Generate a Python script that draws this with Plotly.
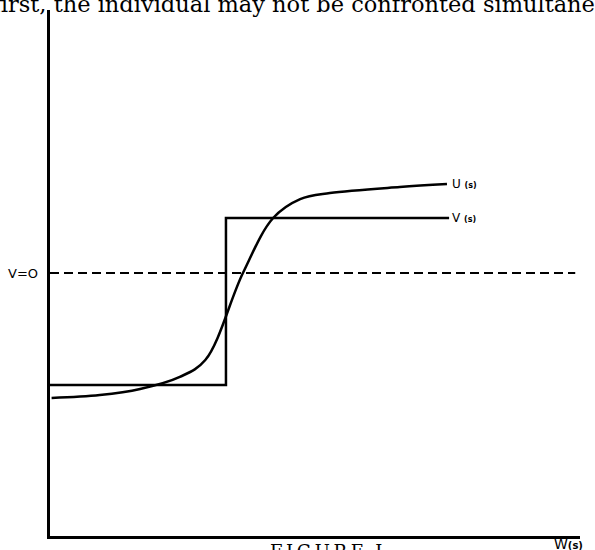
import plotly.graph_objects as go

# U(s) curve
u_x = [0.03, 0.94, 1.70, 2.45, 2.93, 3.64, 4.21, 4.72, 5.28, 6.60, 7.49]
u_y = [-0.475, -0.464, -0.441, -0.395, -0.331, 0.0, 0.209, 0.281, 0.304, 0.327, 0.338]

# V(s) step function
v_x = [0.0, 3.32, 3.32, 7.53]
v_y = [-0.426, -0.426, 0.209, 0.209]

# V = 0 reference line
ref_x = [0.0, 9.91]
ref_y = [0.0, 0.0]

fig = go.Figure()
fig.add_trace(go.Scatter(x=ref_x, y=ref_y, mode="lines",
                         line=dict(color="black", width=2, dash="9px,5px"),
                         hoverinfo="skip", showlegend=False))
fig.add_trace(go.Scatter(x=v_x, y=v_y, mode="lines",
                         line=dict(color="black", width=2.5),
                         hoverinfo="skip", showlegend=False))
fig.add_trace(go.Scatter(x=u_x, y=u_y, mode="lines",
                         line=dict(color="black", width=2.5, shape="spline", smoothing=1.0),
                         hoverinfo="skip", showlegend=False))

lab_font = dict(family="DejaVu Sans", size=12, color="black")
ann = [
    dict(x=u_x[-1] + 0.05, y=u_y[-1], xref="x", yref="y", xanchor="left", yanchor="middle",
         text="U <b><span style='font-size:8px'>(s)</span></b>", showarrow=False, font=lab_font),
    dict(x=v_x[-1] + 0.01, y=v_y[-1], xref="x", yref="y", xanchor="left", yanchor="middle",
         text="V <b><span style='font-size:8px'>(s)</span></b>", showarrow=False, font=lab_font),
    dict(x=-0.0189, y=0.5, xref="paper", yref="paper", xanchor="right", yanchor="middle",
         text="V=O", showarrow=False, font=dict(family="DejaVu Sans", size=13, color="black")),
    dict(x=0.947, y=-0.016, xref="paper", yref="paper", xanchor="left", yanchor="middle",
         text="W<b><span style='font-size:10px'>(s)</span></b>", showarrow=False,
         font=dict(family="DejaVu Sans", size=14, color="black")),
    dict(x=-0.111, y=1.0114, xref="paper", yref="paper", xanchor="left", yanchor="middle",
         text="first, the individual may not be confronted simultaneously", showarrow=False,
         font=dict(family="DejaVu Serif", size=22.5, color="black")),
    dict(x=0.411, y=-0.030, xref="paper", yref="paper", xanchor="left", yanchor="middle",
         text="F\u2009I\u2009G\u2009U\u2009R\u2009E  I.", showarrow=False,
         font=dict(family="DejaVu Serif", size=18, color="black")),
]

fig.update_layout(
    width=595, height=550,
    margin=dict(l=50, r=15, t=10, b=14),
    paper_bgcolor="white", plot_bgcolor="white",
    xaxis=dict(range=[0, 10], showgrid=False, zeroline=False, showticklabels=False,
               ticks="", showline=True, linecolor="black", linewidth=2.5, fixedrange=True),
    yaxis=dict(range=[-1, 1], showgrid=False, zeroline=False, showticklabels=False,
               ticks="", showline=True, linecolor="black", linewidth=2.5, fixedrange=True),
    annotations=ann,
)

fig.write_html("out.html", config={"displayModeBar": False},
               post_script="document.body.style.margin='0';")
